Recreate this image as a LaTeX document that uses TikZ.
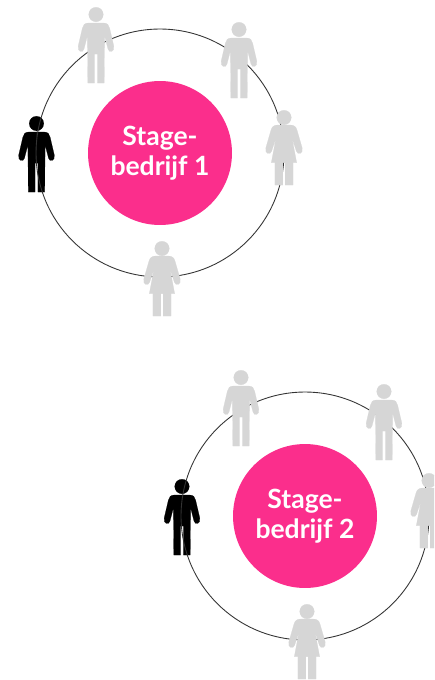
\documentclass[tikz,border=0pt]{standalone}
\usepackage{fontspec}
\setmainfont{Lato}
\usepackage{tikz}
\usetikzlibrary{positioning}
\definecolor{stagepink}{HTML}{FB2E8C}
\definecolor{persongrey}{HTML}{D6D6D6}
\definecolor{ringline}{HTML}{333333}
\newcommand{\manhalf}{(-0.2,16) -- (7.5,16) .. controls (11.5,16) and (13,18) .. (13.6,21) -- (17.8,39)
	.. controls (19,45) and (13,46.5) .. (12,42) -- (8.6,29) -- (8.2,76) -- (1.4,76) -- (1.4,47) -- (-0.2,47) -- cycle}
\newcommand{\womanhalf}{(-0.2,15) -- (6,15) .. controls (10,15) and (12,16.5) .. (13,20) -- (18.2,38)
	.. controls (19.5,44) and (13.5,45.5) .. (12.3,41) -- (8,28) -- (12.7,52.7) -- (9.1,52.7) -- (9.1,75) -- (1.2,75) -- (1.2,52.7) -- (-0.2,52.7) -- cycle}
\tikzset{
	ring/.style={circle, draw=ringline, line width=0.5pt, minimum size=4.96cm, inner sep=0pt},
	stage/.style={circle, fill=stagepink, text=white, minimum size=2.88cm, inner sep=0pt,
		align=center, font=\fontsize{15.1}{17}\selectfont\bfseries},
	off/.style={fill=persongrey, draw=persongrey},
	on/.style={fill=black, draw=black},
	man/.pic={
		\path[pic actions, line width=0.1pt] (0,7.5) circle (7.3);
		\path[pic actions, line width=0.1pt] \manhalf;
		\path[pic actions, line width=0.1pt, xscale=-1] \manhalf;
	},
	woman/.pic={
		\path[pic actions, line width=0.1pt] (0,7.5) circle (7.3);
		\path[pic actions, line width=0.1pt] \womanhalf;
		\path[pic actions, line width=0.1pt, xscale=-1] \womanhalf;
	},
}
\begin{document}
\begin{tikzpicture}[x=0.02cm, y=-0.02cm]
	\clip (0,0) rectangle (434,680);
	% first company
	\pic[on] (boy1) at (36.5,116) {man};
	\node[ring] (ring1) at (160,153) {};
	\node[stage] (stage1) at (ring1.center) {Stage-\\bedrijf 1};
	\pic[off] (man1a) at (96,7) {man};
	\pic[off] (man1b) at (239,22) {man};
	\pic[off] (woman1a) at (284,110) {woman};
	\pic[off] (woman1b) at (162,241) {woman};
	% second company
	\pic[on] (boy2) at (182,479) {man};
	\node[ring] (ring2) at (305,516) {};
	\node[stage] (stage2) at (ring2.center) {Stage-\\bedrijf 2};
	\pic[off] (man2a) at (241,370) {man};
	\pic[off] (man2b) at (384,384) {man};
	\pic[off] (woman2a) at (429,473) {woman};
	\pic[off] (woman2b) at (307,604) {woman};
\end{tikzpicture}
\end{document}
